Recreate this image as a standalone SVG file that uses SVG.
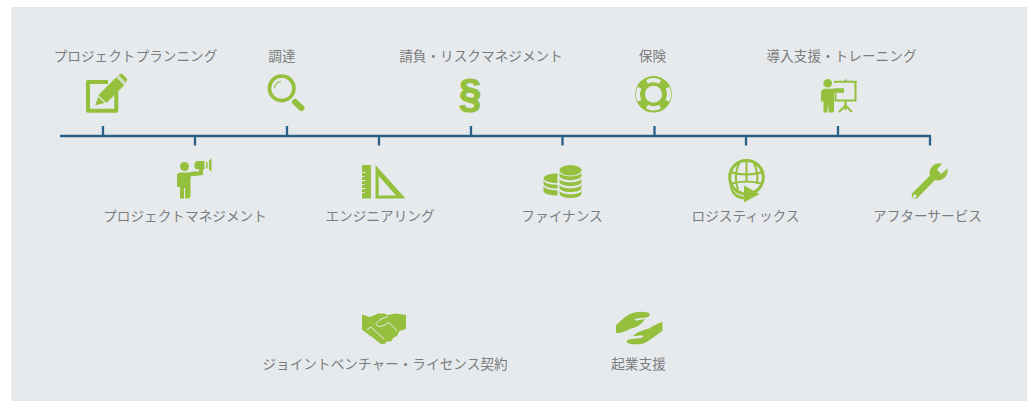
<svg xmlns="http://www.w3.org/2000/svg" width="1031" height="401" viewBox="0 0 1031 401">
<style>
text{font-family:"Noto Sans CJK JP","Noto Sans",sans-serif;font-size:13.65px;fill:#7b7c7e;text-anchor:middle}
.g{fill:#95c03d}
.s{fill:none;stroke:#95c03d}
.b{fill:#e6eaed}
.bs{fill:none;stroke:#e6eaed}
.t{stroke:#2a6187;stroke-width:2.300;fill:none}
</style>
<rect width="1031" height="401" fill="#fff"/>
<rect x="11" y="7" width="1016" height="394" fill="#e6eaed"/>
<g id="connectors">
<path class="t" d="M60 136H931M103 126V136M195 136V145.500M287 126V136M379 136V145.500M471 126V136M562.500 136V145.500M654.500 126V136M746 136V145.500M838 126V136M930 136V145.500"/>
</g>
<g id="n1"><text x="135.500" y="60.500">プロジェクトプランニング</text>
<path class="s" stroke-width="4" stroke-linejoin="round" d="M116.300 92V110.700H88V82H108"/>
<path class="g" d="M95.300 105.200L99 94.500L117.500 76L125.500 84L107 102.500Z"/>
<path class="g" d="M119.500 74.200L122 73.800L127 78.800L126.800 81.500L125.800 82.500L118.500 75.200Z"/>
<path class="bs" stroke-width="1.300" d="M98.200 95.800L105.800 103.400"/><path class="bs" stroke-width="1.200" d="M116.500 76.500L125 85"/>
</g>
<g id="n2"><text x="282" y="60.500">調達</text>
<circle class="s" cx="281.700" cy="88.300" r="12.300" stroke-width="3.600"/>
<path class="s" stroke-width="6" stroke-linecap="round" d="M295 102L301.500 108"/>
<path class="s" stroke-width="1.200" d="M274.500 88C274.500 84.500 277.500 81.500 281 81.300"/>
</g>
<g id="n3"><text x="481" y="60.500">請負・リスクマネジメント</text>
<text x="470" y="107" style="font-family:'Liberation Sans',sans-serif;font-size:40px;font-weight:700;fill:#95c03d;stroke:#95c03d;stroke-width:1.200">§</text>
</g>
<g id="n4"><text x="652.500" y="60.500">保険</text>
<circle class="g" cx="653.500" cy="94.300" r="18.300"/>
<circle class="b" cx="653.500" cy="94.300" r="8.500"/>
<path class="bs" stroke-width="4.200" d="M647 81.900A14 14 0 0 1 660 81.900M667.400 87.800A14 14 0 0 1 667.400 100.800M660 106.700A14 14 0 0 1 647 106.700M639.600 100.800A14 14 0 0 1 639.600 87.800"/>
</g>
<g id="n5"><text x="841.500" y="60.500">導入支援・トレーニング</text>
<circle class="g" cx="827.700" cy="83.300" r="4.300"/>
<path class="g" d="M821 91L824 88.800H831.500L836 88.300H844V92.800H834V111.500L832.500 112.500H829L828 106H827.500V112.500H823.500V101.500H821Z"/>
<path class="s" stroke-width="2" d="M834 81.800H857M835.500 93V100.500H855.500V82M845.500 81.800V79.500M845.500 100.500V110"/>
<path class="s" stroke-width="2" d="M839 112L845.500 105.500L852 112"/>
</g>
<g id="n6"><text x="185" y="220.500">プロジェクトマネジメント</text>
<circle class="g" cx="184.500" cy="166.500" r="4.500"/>
<path class="g" d="M177 174L180 172.500H188.500L194 171.500H199L200 165H203V175L190.500 176.500V197L188.500 198.500H185V188H184V198.500H180V187H177Z"/>
<path class="g" d="M194.500 164A3.500 3.500 0 0 1 198 161H204.500V169.500H198A3.500 3.500 0 0 1 194.500 166.500ZM206 162H207.500V168.500H206ZM209 161L211.500 158V172L209 169.500Z"/>
</g>
<g id="n7"><text x="380" y="220.500">エンジニアリング</text>
<rect class="g" x="362" y="165" width="9" height="33.500"/>
<path class="b" d="M362 172h3.500v1H362zM362 176h2.500v1H362zM362 180h3.500v1H362zM362 184h2.500v1H362zM362 188h3.500v1H362zM362 192h2.500v1H362z"/>
<path class="g" fill-rule="evenodd" d="M375.500 165L405.500 198.500H375.500ZM378.700 176V195.500H396Z"/>
</g>
<g id="n8"><text x="562" y="220.500">ファイナンス</text>
<ellipse class="g" cx="570.500" cy="170.300" rx="11" ry="5.300"/>
<path class="g" d="M559.500 172.500C560.500 177.500 580.500 177.500 581.500 172.500V176C580.500 181.500 560.500 181.500 559.500 176ZM559.500 178.500C560.500 183.500 580.500 183.500 581.500 178.500V182C580.500 187.500 560.500 187.500 559.500 182ZM559.500 184.500C560.500 189.500 580.500 189.500 581.500 184.500V188C580.500 193.500 560.500 193.500 559.500 188ZM559.500 190.500C560.500 195.500 580.500 195.500 581.500 190.500V193.500C580.500 199.500 560.500 199.500 559.500 193.500Z"/>
<path class="g" d="M557.500 173.500V183C550 183 544 181.500 543.500 178C544 175.500 550 173.500 557.500 173.500ZM543.500 180.500C545 183.500 551 184.800 557.500 184.800V188.500C551 188.500 544 187 543.500 183.500ZM543.500 186C545 189 551 190.200 557.500 190.200V195.500C551 195.500 544 194 543.500 191Z"/>
</g>
<g id="n9"><text x="745.500" y="220.500">ロジスティックス</text>
<circle class="s" cx="746.500" cy="177.300" r="16.800" stroke-width="3"/>
<path class="s" stroke-width="2" d="M730 172C740 175 753 175 763 172M730 184C740 181 753 181 763 184M746.500 161V182M739.500 162C735 172 735 182 738 190M753.500 162C758 172 758 180 756.500 184"/>
<path class="g" d="M729.500 184C733 193 740 196.500 744 196.500V185.500L759.500 194L744 202.500V199.500C735 199 729.500 192 729.500 184Z"/>
</g>
<g id="n10"><text x="927.500" y="220.500">アフターサービス</text>
<path class="g" fill-rule="evenodd" d="M912 193.500L930 175.500C928 169 934 162 942 163.500L937 169.500L941 174L947.500 168.500C949 176 942 182 935 180L917.500 198C914 200 910.500 197 912 193.500ZM914.700 194.500A1.700 1.700 0 1 0 914.710 194.500Z"/>
</g>
<g id="n11"><text x="385" y="368.500">ジョイントベンチャー・ライセンス契約</text>
<path class="g" d="M362 314.500L370 317L378 313.500H384L388 315L396 313.500L406 315V329L399.500 331L397 336L393.500 337.500L391 341.500L387 341.500L384.500 344L381 344L372 337L369 335L362 329.500Z"/>
<path class="bs" stroke-width="1" stroke-linecap="round" d="M387.500 316.500L380 319.500L376 323.500L378 326.500L384 325.500L389 322.500L397 331M367 329.500L371 327L384 339"/>
</g>
<g id="n12"><text x="638.500" y="368.500">起業支援</text>
<path class="g" d="M616 325C621 321 624 317 630 314C636 311.500 642 311 648 312.500C651 314 650 317 646 317.500L637 318.500C634 319 634 320.500 637 320.500L645 319C641 325 636 327.500 631 328.500C626 331 621 333 618 333H616Z"/>
<path class="g" d="M662.500 322V331C656 335 650 341 643 343.500C637 345 630 344.500 627 342.500C626 340.500 628 339.500 631 339L641 338C644 337 644 335.500 641 335.500L633 336C637 331.500 644 330 649 328.500C653 326 658 323 662.500 322Z"/>
</g>
</svg>
